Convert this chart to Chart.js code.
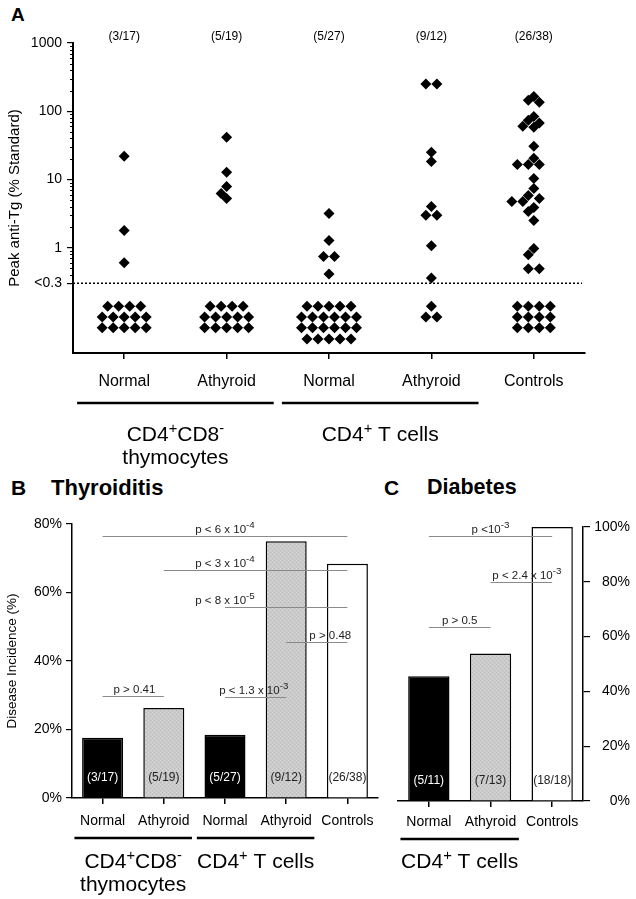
<!DOCTYPE html>
<html>
<head>
<meta charset="utf-8">
<script src="https://cdn.jsdelivr.net/npm/chart.js@4.4.1/dist/chart.umd.min.js"></script>
<style>
body{margin:0;background:#fff;width:636px;height:899px;position:relative;overflow:hidden;font-family:"Liberation Sans",Arial,sans-serif}
canvas{position:absolute}
.lbl{position:absolute;font-weight:bold;line-height:1;color:#000}
</style>
</head>
<body>
<div class="lbl" style="left:11px;top:5px;font-size:19px">A</div>
<div class="lbl" style="left:11px;top:477px;font-size:21px">B</div>
<div class="lbl" style="left:51px;top:477px;font-size:22px">Thyroiditis</div>
<div class="lbl" style="left:384px;top:477px;font-size:21px">C</div>
<div class="lbl" style="left:427px;top:477px;font-size:21.5px">Diabetes</div>
<canvas id="a" width="636" height="470" style="left:0;top:0"></canvas>
<canvas id="b" width="390" height="429" style="left:0;top:470px"></canvas>
<canvas id="c" width="246" height="429" style="left:390px;top:470px"></canvas>
<script>
// ---- panel A: peak anti-Tg, one list per group (detected values only)
const groupsA = ["Normal", "Athyroid", "Normal", "Athyroid", "Controls"];
const countsA = ["(3/17)", "(5/19)", "(5/27)", "(9/12)", "(26/38)"];
const thymNormal = [21.8, 1.78, 0.6];
const thymAthyroid = [41.5, 12.7, 7.9, 6.2, 5.25];
const cd4Normal = [3.16, 1.27, 0.74, 0.74, 0.41];
const cd4Athyroid = [250, 250, 25, 18.4, 4.0, 3.0, 3.0, 1.07, 0.36];
const controls = [165, 145, 135, 84, 74, 67, 60, 58, 30.6, 20.4, 16.6, 16.6, 16.6,
  10.3, 7.4, 5.8, 5.25, 4.75, 4.75, 3.87, 3.39, 2.5, 0.97, 0.79, 0.49, 0.49];
const belowLimit = [14, 14, 22, 3, 12];   // animals under the 0.3 cut-off
const yTicksA = [0.3, 1, 10, 100, 1000];

// ---- panel B: thyroiditis incidence (%)
const groupsB = ["Normal", "Athyroid", "Normal", "Athyroid", "Controls"];
const incidenceB = [17.6, 26.3, 18.5, 75.0, 68.4];
const countsB = ["(3/17)", "(5/19)", "(5/27)", "(9/12)", "(26/38)"];
const pB = [
  {from: 0, to: 4, y: 76.4, at: 2.0, text: "p < 6 x 10^{-4}"},
  {from: 1, to: 4, y: 66.5, at: 2.0, text: "p < 3 x 10^{-4}"},
  {from: 2, to: 4, y: 55.7, at: 2.0, text: "p < 8 x 10^{-5}"},
  {from: 3, to: 4, y: 45.5, at: 3.72, text: "p > 0.48"},
  {from: 0, to: 1, y: 29.7, at: 0.52, text: "p > 0.41"},
  {from: 2, to: 3, y: 29.4, at: 2.47, text: "p < 1.3 x 10^{-3}"}
];

// ---- panel C: diabetes incidence (%)
const groupsC = ["Normal", "Athyroid", "Controls"];
const incidenceC = [45.5, 53.8, 100];
const countsC = ["(5/11)", "(7/13)", "(18/18)"];
const pC = [
  {from: 0, to: 2, y: 96.7, at: 1.0, text: "p <10^{-3}"},
  {from: 1, to: 2, y: 80.0, at: 1.59, text: "p < 2.4 x 10^{-3}"},
  {from: 0, to: 1, y: 63.5, at: 0.5, text: "p > 0.5"}
];

const spansAB = [
  {from: 0, to: 1, lines: ["CD4^{+}CD8^{-}", "thymocytes"]},
  {from: 2, to: 3, lines: ["CD4^{+} T cells"]}
];
const spansC = [{from: 0, to: 1, lines: ["CD4^{+} T cells"]}];

const FONT = "Liberation Sans, Arial, sans-serif";
Chart.defaults.font.family = FONT;
Chart.defaults.color = "#000";
Chart.defaults.animation = false;

// gray stipple for the athyroid bars
function stipple() {
  const c = document.createElement("canvas");
  c.width = 4; c.height = 4;
  const g = c.getContext("2d");
  g.fillStyle = "#cbcbcb"; g.fillRect(0, 0, 4, 4);
  g.fillStyle = "#b9b9b9"; g.fillRect(0, 0, 1, 1); g.fillRect(2, 2, 1, 1);
  g.fillStyle = "#d9d9d9"; g.fillRect(2, 0, 1, 1); g.fillRect(0, 2, 1, 1);
  return g.createPattern(c, "repeat");
}
const GRAY = stipple();
const fillFor = {Normal: "#000", Athyroid: GRAY, Controls: "#fff"};

// text with ^{...} superscripts
function drawRich(ctx, str, x, y, size, align, color, supRatio) {
  const parts = str.split(/\^\{([^}]*)\}/);
  const sub = size * (supRatio || 0.7);
  let w = 0;
  parts.forEach((t, i) => {
    ctx.font = (i % 2 ? sub : size) + "px " + FONT;
    w += ctx.measureText(t).width;
  });
  let cx = align === "center" ? x - w / 2 : x;
  ctx.fillStyle = color || "#000";
  ctx.textAlign = "left";
  ctx.textBaseline = "alphabetic";
  parts.forEach((t, i) => {
    ctx.font = (i % 2 ? sub : size) + "px " + FONT;
    ctx.fillText(t, cx, i % 2 ? y - size * 0.4 : y);
    cx += ctx.measureText(t).width;
  });
}

// ---- swarm layout for panel A (pixel sizes of one diamond)
const PX_CAT = 102.4, PX_DEC = 68, HALF = 5.5, GAP = 9;
const BELOW_ROWS = [0.138, 0.096, 0.067, 0.046];

function swarm(values, cat) {
  const placed = [];
  const s = [...values].sort((a, b) => b - a);
  let i = 0;
  while (i < s.length) {
    let n = 1;
    while (s[i + n] === s[i]) n++;
    const py = -PX_DEC * Math.log10(s[i]);
    for (let k = 0; ; k++) {
      const c = (k % 2 ? -1 : 1) * Math.ceil(k / 2) * HALF;
      const xs = [];
      for (let j = 0; j < n; j++) xs.push(c + (j - (n - 1) / 2) * 2 * HALF);
      const ok = xs.every(px => placed.every(p => Math.abs(p.px - px) + Math.abs(p.py - py) >= GAP));
      if (ok) { xs.forEach(px => placed.push({px, py, v: s[i]})); break; }
    }
    i += n;
  }
  return placed.map(p => ({x: cat + p.px / PX_CAT, y: p.v}));
}

function block(n, cat) {
  const rows = Math.max(2, Math.round(Math.sqrt(n) * 0.8));
  const per = Array(rows).fill(Math.floor(n / rows));
  const mid = (rows - 1) / 2;
  const order = [...Array(rows).keys()].sort((a, b) =>
    (Math.abs(a - mid) - 0.01 * a) - (Math.abs(b - mid) - 0.01 * b));
  order.slice(0, n % rows).forEach(r => per[r]++);
  const pts = [];
  per.forEach((m, r) => {
    for (let j = 0; j < m; j++) pts.push({x: cat + (j - (m - 1) / 2) * 2 * HALF / PX_CAT, y: BELOW_ROWS[r]});
  });
  return pts;
}

const detected = [thymNormal, thymAthyroid, cd4Normal, cd4Athyroid, controls];
let pointsA = [];
detected.forEach((vals, i) => { pointsA = pointsA.concat(swarm(vals, i), block(belowLimit[i], i)); });

// ---- shared plugins
function groupLabels(spans, lineDy, baseDy, gap) {
  return {
    id: "groups",
    afterDraw(chart) {
      const {ctx, chartArea, scales: {x}} = chart;
      const half = 0.92 * (x.getPixelForValue(1) - x.getPixelForValue(0));
      spans.forEach(s => {
        const c = (x.getPixelForValue(s.from) + x.getPixelForValue(s.to)) / 2;
        const w = x.getPixelForValue(s.to) - x.getPixelForValue(s.from);
        ctx.save();
        ctx.strokeStyle = "#000"; ctx.lineWidth = 2.5;
        ctx.beginPath();
        ctx.moveTo(c - w / 2 - half / 2, chartArea.bottom + lineDy);
        ctx.lineTo(c + w / 2 + half / 2, chartArea.bottom + lineDy);
        ctx.stroke();
        s.lines.forEach((t, k) => drawRich(ctx, t, c, chartArea.bottom + baseDy + k * gap, 21, "center"));
        ctx.restore();
      });
    }
  };
}

function pValues(list) {
  return {
    id: "pvals",
    afterDatasetsDraw(chart) {
      const {ctx, scales: {x, y}} = chart;
      ctx.save();
      list.forEach(p => {
        const yy = Math.round(y.getPixelForValue(p.y)) + 0.5;
        ctx.strokeStyle = "#8a8a8a"; ctx.lineWidth = 1;
        ctx.beginPath();
        ctx.moveTo(x.getPixelForValue(p.from), yy);
        ctx.lineTo(x.getPixelForValue(p.to), yy);
        ctx.stroke();
        drawRich(ctx, p.text, x.getPixelForValue(p.at), yy - 4, 11.5, "center", "#222", 0.85);
      });
      ctx.restore();
    }
  };
}

function barCounts(labels) {
  return {
    id: "counts",
    afterDatasetsDraw(chart) {
      const {ctx, chartArea} = chart;
      const meta = chart.getDatasetMeta(0);
      ctx.save();
      ctx.font = "12px " + FONT;
      ctx.textAlign = "center"; ctx.textBaseline = "middle";
      meta.data.forEach((el, i) => {
        ctx.fillStyle = chart.data.datasets[0].backgroundColor[i] === "#000" ? "#fff" : "#222";
        ctx.fillText(labels[i], el.x, chartArea.bottom - 20);
      });
      ctx.restore();
    }
  };
}

// ---- panel A extras: cut-off line, minor log ticks, group counts
const extrasA = {
  id: "extrasA",
  afterDraw(chart) {
    const {ctx, chartArea, scales: {x, y}} = chart;
    ctx.save();
    const yc = y.getPixelForValue(0.3);
    ctx.strokeStyle = "#000"; ctx.lineWidth = 1.5; ctx.setLineDash([2, 2]);
    ctx.beginPath(); ctx.moveTo(chartArea.left, yc); ctx.lineTo(chartArea.right - 3, yc); ctx.stroke();
    ctx.setLineDash([]); ctx.lineWidth = 1;
    for (let d = 0.1; d < 1000; d *= 10) {
      for (let m = 2; m <= 9; m++) {
        const v = d * m;
        if (v <= 0.3 + 1e-9) continue;
        const py = Math.round(y.getPixelForValue(v)) + 0.5;
        ctx.beginPath(); ctx.moveTo(chartArea.left - 3, py); ctx.lineTo(chartArea.left, py); ctx.stroke();
      }
    }
    ctx.font = "12px " + FONT; ctx.fillStyle = "#000";
    ctx.textAlign = "center"; ctx.textBaseline = "middle";
    countsA.forEach((t, i) => ctx.fillText(t, x.getPixelForValue(i), chartArea.top - 6));
    ctx.restore();
  }
};

new Chart(document.getElementById("a"), {
  type: "scatter",
  data: {datasets: [{
    data: pointsA,
    pointStyle: "rectRot", pointRadius: 5.5, pointHoverRadius: 5.5,
    backgroundColor: "#000", borderWidth: 0
  }]},
  options: {
    responsive: false,
    layout: {padding: {top: 43, right: 51, left: 0, bottom: 0}},
    plugins: {legend: {display: false}, tooltip: {enabled: false}},
    scales: {
      x: {
        type: "linear", min: -0.5, max: 4.5,
        afterBuildTicks: s => { s.ticks = groupsA.map((_, i) => ({value: i})); },
        afterFit: s => { s.height = 117; },
        ticks: {callback: v => groupsA[v], font: {size: 16}, padding: 13, maxRotation: 0, autoSkip: false},
        grid: {drawOnChartArea: false, tickLength: 6, color: "#000", lineWidth: 1.5},
        border: {color: "#000", width: 2}
      },
      y: {
        type: "logarithmic", min: 0.0286, max: 1000,
        afterBuildTicks: s => { s.ticks = yTicksA.map(v => ({value: v})); },
        afterFit: s => { s.width = 73; },
        ticks: {callback: v => v === 0.3 ? "<0.3" : String(v), font: {size: 14}, padding: 5, autoSkip: false},
        grid: {drawOnChartArea: false, tickLength: 6, color: "#000", lineWidth: 1.2},
        border: {color: "#000", width: 2},
        title: {display: true, text: "Peak anti-Tg (% Standard)", font: {size: 15}, padding: {top: 6, bottom: 0}}
      }
    }
  },
  plugins: [extrasA, groupLabels(spansAB, 50, 88, 23)]
});

function barChart(id, labels, values, counts, pvals, spans, opts) {
  return new Chart(document.getElementById(id), {
    type: "bar",
    data: {labels, datasets: [{
      data: values,
      backgroundColor: labels.map(l => fillFor[l]),
      borderColor: "#000", borderWidth: 1.5, borderSkipped: "bottom",
      categoryPercentage: 1, barPercentage: 0.67
    }]},
    options: {
      responsive: false,
      layout: {padding: opts.padding},
      plugins: {legend: {display: false}, tooltip: {enabled: false}},
      scales: {
        x: {
          afterFit: s => { s.height = opts.xHeight; },
          ticks: {font: {size: 14}, padding: opts.tickPad, maxRotation: 0, autoSkip: false},
          grid: {offset: false, drawOnChartArea: false, tickLength: 6, color: "#000", lineWidth: 1.5},
          border: {color: "#000", width: 1.5}
        },
        y: {
          position: opts.yPos, min: 0, max: opts.yMax,
          afterFit: s => { s.width = opts.yWidth; },
          ticks: {stepSize: 20, callback: v => v + "%", font: {size: 14}, padding: 4, crossAlign: opts.cross},
          grid: {drawOnChartArea: false, tickLength: opts.yTick, color: "#000", lineWidth: 1.2},
          border: {color: "#000", width: 1.5},
          title: opts.title
        }
      }
    },
    plugins: [barCounts(counts), pValues(pvals), groupLabels(spans, opts.lineDy, opts.baseDy, 23)]
  });
}

barChart("b", groupsB, incidenceB, countsB, pB, spansAB, {
  padding: {top: 54, right: 12, left: 0, bottom: 0},
  xHeight: 101, tickPad: 9, yPos: "left", yMax: 80, yWidth: 72, yTick: 6, cross: "near",
  title: {display: true, text: "Disease Incidence (%)", font: {size: 13.5}, padding: {top: 4, bottom: 0}},
  lineDy: 40, baseDy: 70
});

barChart("c", groupsC, incidenceC, countsC, pC, spansC, {
  padding: {top: 57, right: 6, left: 8, bottom: 0},
  xHeight: 98, tickPad: 7, yPos: "right", yMax: 100, yWidth: 47, yTick: 7, cross: "far",
  title: {display: false},
  lineDy: 38, baseDy: 67
});
</script>
</body>
</html>
